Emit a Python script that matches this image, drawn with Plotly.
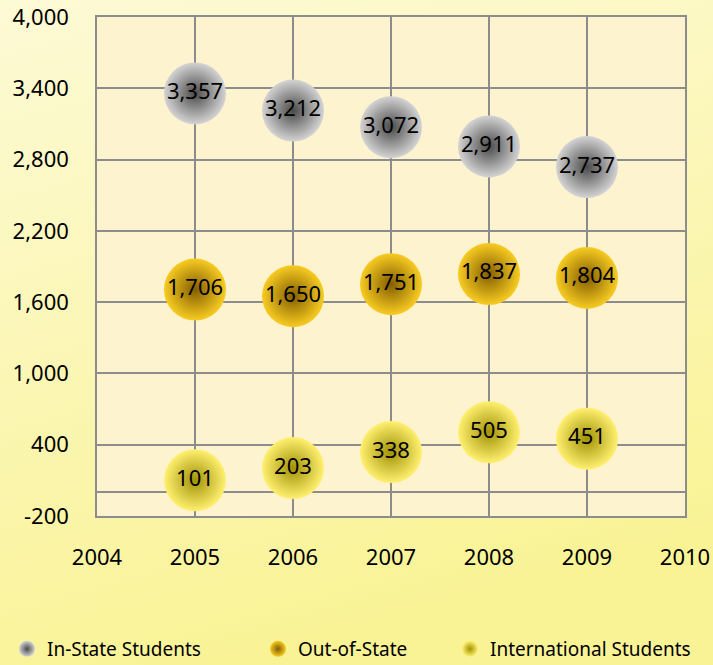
import plotly.graph_objects as go

years = [2005, 2006, 2007, 2008, 2009]
in_state = [3357, 3212, 3072, 2911, 2737]
out_of_state = [1706, 1650, 1751, 1837, 1804]
international = [101, 203, 338, 505, 451]
series_names = ["In-State Students", "Out-of-State", "International Students"]
x_ticks = [2004, 2005, 2006, 2007, 2008, 2009, 2010]
y_ticks = [-200, 400, 1000, 1600, 2200, 2800, 3400, 4000]
y_tick_labels = ["-200", "400", "1,000", "1,600", "2,200", "2,800", "3,400", "4,000"]

FONT = "Noto Sans"

styles = [
    dict(color="#d4d4d4", edge="#4a4a4a"),
    dict(color="#f8cc22", edge="#845e00"),
    dict(color="#fff070", edge="#a29206"),
]

pw, ph = 588, 499
l, r, t, b = 97, 28, 17, 149
W, H = 713, 665

# legend positions (figure pixels)
leg_px = [7, 258, 450]
leg_y = -(649 - (H - b)) / ph

fig = go.Figure()
for i, (name, vals) in enumerate(zip(series_names, [in_state, out_of_state, international])):
    st = styles[i]
    fig.add_trace(go.Scatter(
        x=years, y=vals, name=name, mode="markers+text",
        text=[f"{v:,}" for v in vals], textposition="middle center",
        textfont=dict(family=FONT, size=22, color="#000000"),
        marker=dict(size=62, color=st["color"],
                    gradient=dict(type="radial", color=st["edge"]),
                    line=dict(width=0)),
        legend=["legend", "legend2", "legend3"][i],
        cliponaxis=False,
        hoverinfo="skip",
    ))

bg_svg = ("data:image/svg+xml;utf8,"
          "<svg xmlns='http://www.w3.org/2000/svg' width='100' height='100' preserveAspectRatio='none'>"
          "<defs><linearGradient id='g' x1='0' y1='0' x2='0.3' y2='1'>"
          "<stop offset='0' stop-color='%23fdfad6'/><stop offset='1' stop-color='%23f9f396'/>"
          "</linearGradient></defs><rect width='100' height='100' fill='url(%23g)'/></svg>")

leg_common = dict(orientation="h", xref="paper", yref="paper",
                  yanchor="middle", xanchor="left",
                  font=dict(family=FONT, size=19, color="#000000"),
                  bgcolor="rgba(0,0,0,0)", borderwidth=0)

fig.update_layout(
    width=W, height=H,
    margin=dict(l=l, r=r, t=t, b=b, autoexpand=False),
    paper_bgcolor="#fbf6b4",
    plot_bgcolor="#fef3cf",
    showlegend=True,
    legend=dict(x=(leg_px[0] - l) / pw, y=leg_y, **leg_common),
    legend2=dict(x=(leg_px[1] - l) / pw, y=leg_y, **leg_common),
    legend3=dict(x=(leg_px[2] - l) / pw, y=leg_y, **leg_common),
    images=[dict(source=bg_svg, xref="paper", yref="paper",
                 x=-l / pw, y=1 + t / ph, sizex=W / pw, sizey=H / ph,
                 sizing="stretch", layer="below", xanchor="left", yanchor="top")],
    shapes=[dict(type="rect", xref="paper", yref="paper", x0=0, x1=1, y0=0, y1=1,
                 fillcolor="#fef3cf", line=dict(width=0), layer="below")],
    xaxis=dict(range=[x_ticks[0], x_ticks[-1]], tickmode="array", tickvals=x_ticks,
               showgrid=True, gridcolor="#8c8c8c", gridwidth=1.5,
               showline=True, linecolor="#8c8c8c", linewidth=1.5, mirror=True,
               zeroline=False,
               ticks="outside", ticklen=21, tickcolor="rgba(0,0,0,0)",
               tickfont=dict(family=FONT, size=22, color="#000000")),
    yaxis=dict(range=[y_ticks[0], y_ticks[-1]], tickmode="array",
               tickvals=y_ticks, ticktext=y_tick_labels,
               showgrid=True, gridcolor="#8c8c8c", gridwidth=1.5,
               showline=True, linecolor="#8c8c8c", linewidth=1.5, mirror=True,
               zeroline=True, zerolinecolor="#8c8c8c", zerolinewidth=1.5,
               ticks="outside", ticklen=22, tickcolor="rgba(0,0,0,0)",
               tickfont=dict(family=FONT, size=22, color="#000000")),
)

fig.write_html("out.html", config={"displayModeBar": False},
               post_script="document.body.style.margin='0';document.body.style.padding='0';")
